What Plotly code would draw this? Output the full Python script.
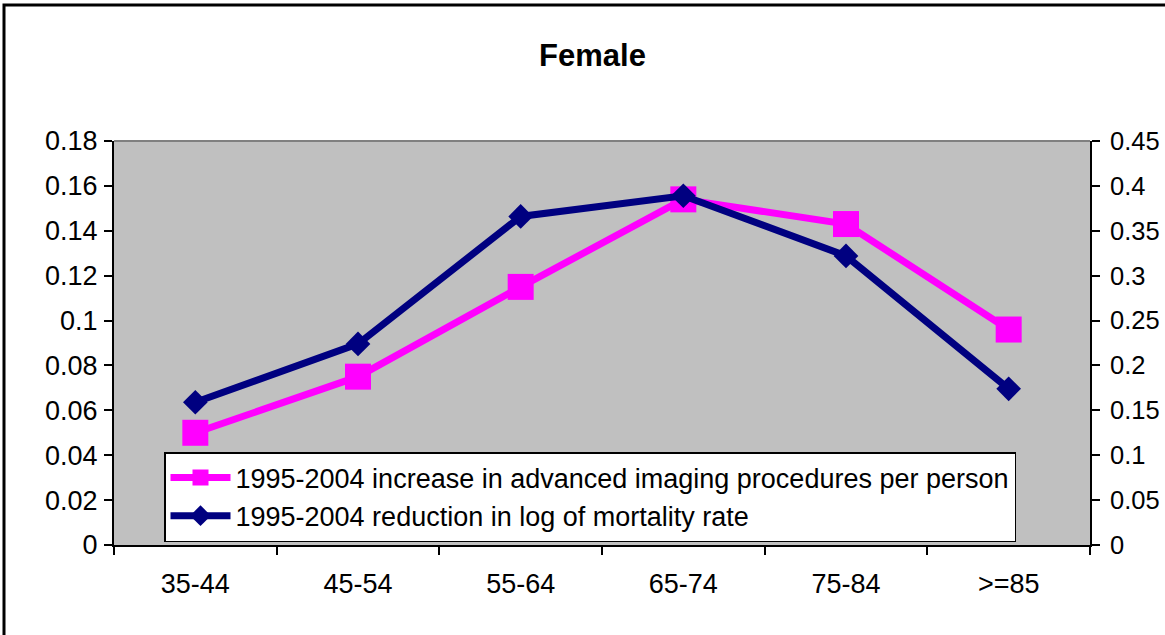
import plotly.graph_objects as go

categories = ["35-44", "45-54", "55-64", "65-74", "75-84", ">=85"]
imaging_increase = [0.050, 0.075, 0.115, 0.154, 0.143, 0.096]
mortality_reduction = [0.159, 0.224, 0.366, 0.389, 0.322, 0.174]

left_tickvals = [0, 0.02, 0.04, 0.06, 0.08, 0.10, 0.12, 0.14, 0.16, 0.18]
left_ticktext = ["0", "0.02", "0.04", "0.06", "0.08", "0.1", "0.12", "0.14", "0.16", "0.18"]
right_tickvals = [0, 0.05, 0.10, 0.15, 0.20, 0.25, 0.30, 0.35, 0.40, 0.45]
right_ticktext = ["0", "0.05", "0.1", "0.15", "0.2", "0.25", "0.3", "0.35", "0.4", "0.45"]

name_imaging = "1995-2004 increase in advanced imaging procedures per person"
name_mortality = "1995-2004 reduction in log of mortality rate"

FONT = "Arial, Liberation Sans, sans-serif"
W, H = 1165, 635
L, R, T, B = 114, 75, 141, 90
PW = W - L - R
PH = H - T - B

fig = go.Figure()
fig.add_trace(go.Scatter(
    x=categories, y=imaging_increase, name=name_imaging, mode="lines+markers",
    line=dict(color="#FF00FF", width=7),
    marker=dict(symbol="square", size=26, color="#FF00FF"),
    yaxis="y",
))
fig.add_trace(go.Scatter(
    x=categories, y=mortality_reduction, name=name_mortality, mode="lines+markers",
    line=dict(color="#000080", width=7),
    marker=dict(symbol="diamond", size=19, color="#000080"),
    yaxis="y2",
))

axis_font = dict(family=FONT, size=27, color="black")
right_font = dict(family=FONT, size=25.5, color="black")

fig.update_layout(
    width=W, height=H,
    margin=dict(l=L, r=R, t=T, b=B, autoexpand=False),
    paper_bgcolor="white",
    plot_bgcolor="#C0C0C0",
    font=dict(family=FONT, size=27, color="black"),
    title=dict(text="<b>Female</b>", font=dict(family=FONT, size=31, color="black"),
               x=(592.5 - L) / PW, xref="paper", xanchor="center",
               y=1 - 55 / H, yref="container", yanchor="middle", automargin=False),
    showlegend=True,
    legend=dict(
        x=(164 - L) / PW, y=(H - B - 452) / PH, xanchor="left", yanchor="top",
        bgcolor="white", bordercolor="black", borderwidth=1.5,
        font=dict(family=FONT, size=27, color="black"),
        itemwidth=60, tracegroupgap=0,
    ),
    xaxis=dict(
        type="category", range=[-0.5, 5.5], tickson="boundaries",
        ticks="outside", ticklen=8, tickwidth=1.5, tickcolor="black",
        showline=True, linecolor="black", linewidth=2,
        showgrid=False, zeroline=False, tickfont=axis_font,
        ticklabelstandoff=14, automargin=False,
    ),
    xaxis2=dict(
        overlaying="x", anchor="y", range=[-0.5, 5.5],
        tickvals=[-0.5, 0.5, 1.5, 2.5, 3.5, 4.5, 5.5],
        ticks="inside", ticklen=8, tickwidth=1.5, tickcolor="black",
        showticklabels=False, showline=False, showgrid=False, zeroline=False,
        automargin=False,
    ),
    yaxis=dict(
        range=[0, 0.18], tickvals=left_tickvals, ticktext=left_ticktext,
        ticks="outside", ticklen=8, tickwidth=1.5, tickcolor="black",
        showline=True, linecolor="black", linewidth=2,
        showgrid=False, zeroline=False, tickfont=axis_font,
        ticklabelstandoff=1, automargin=False,
    ),
    yaxis2=dict(
        range=[0, 0.45], tickvals=right_tickvals, ticktext=right_ticktext,
        overlaying="y", side="right", anchor="x",
        ticks="outside", ticklen=8, tickwidth=1.5, tickcolor="black",
        showline=True, linecolor="black", linewidth=2,
        showgrid=False, zeroline=False, tickfont=right_font,
        ticklabelstandoff=5, automargin=False,
    ),
    yaxis3=dict(
        range=[0, 0.18], tickvals=left_tickvals, overlaying="y", side="left", anchor="x",
        ticks="inside", ticklen=8, tickwidth=1.5, tickcolor="black",
        showticklabels=False, showline=False, showgrid=False, zeroline=False,
        automargin=False,
    ),
    yaxis4=dict(
        range=[0, 0.45], tickvals=right_tickvals, overlaying="y", side="right", anchor="x",
        ticks="inside", ticklen=8, tickwidth=1.5, tickcolor="black",
        showticklabels=False, showline=False, showgrid=False, zeroline=False,
        automargin=False,
    ),
    shapes=[
        dict(type="line", xref="paper", yref="paper", x0=0, x1=1, y0=1, y1=1,
             line=dict(color="#808080", width=2), layer="above"),
        dict(type="rect", xref="paper", yref="paper",
             x0=(4 - L) / PW, x1=1.5, y0=-1.0, y1=(H - B - 5) / PH,
             line=dict(color="black", width=3), fillcolor="rgba(0,0,0,0)", layer="above"),
    ],
)

fig.write_html("out.html", config={"displayModeBar": False},
               post_script="document.body.style.margin='0';")
